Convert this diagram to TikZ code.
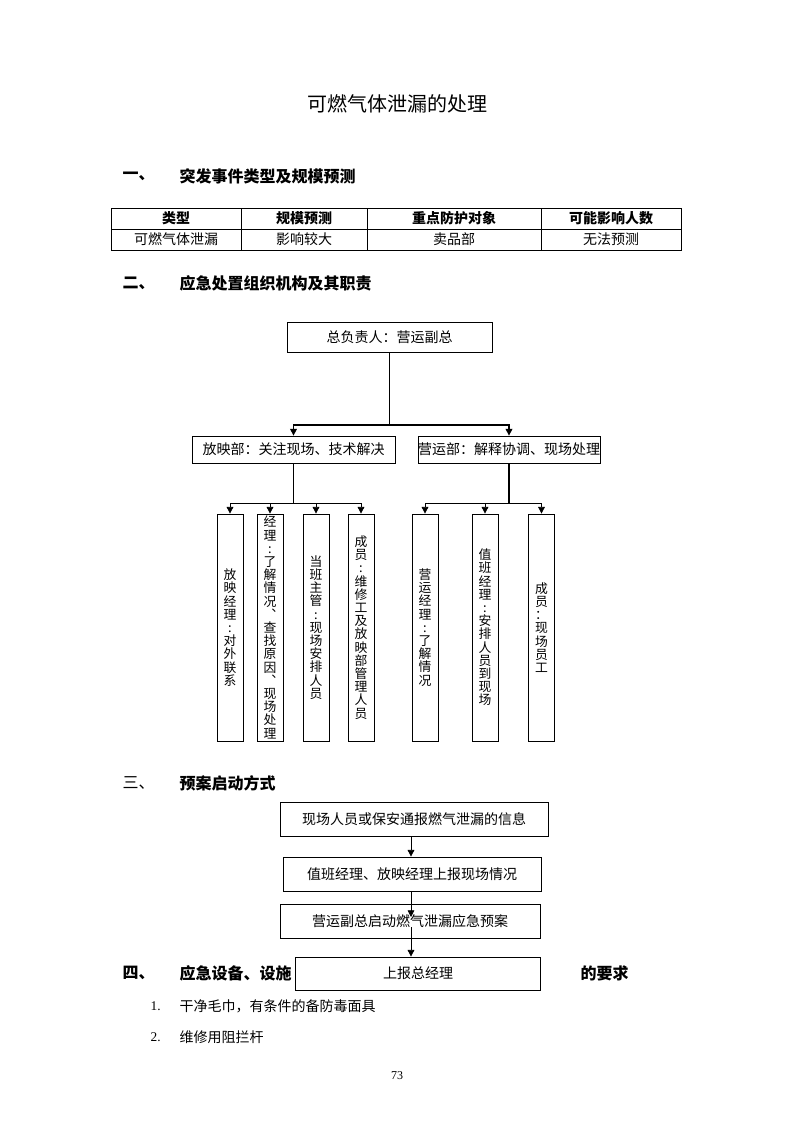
\documentclass[tikz,border=0pt]{standalone}
\usepackage{fontspec}
\setmainfont{Noto Sans CJK SC}
\newfontfamily\latin{Liberation Serif}
\usetikzlibrary{arrows.meta,positioning}

\begin{document}
\begin{tikzpicture}[
  x=0.75pt,y=-0.75pt,
  font=\fontsize{10.5pt}{12pt}\selectfont,
  box/.style={draw,line width=0.6pt,inner sep=0pt,align=center},
  vbox/.style={box,minimum width=19.5pt,minimum height=170.25pt,font=\fontsize{9.6pt}{9.9pt}\selectfont},
  flow/.style={box,minimum height=25.5pt},
  head/.style={anchor=west,font=\fontsize{12pt}{14pt}\selectfont\bfseries},
  th/.style={font=\fontsize{10.5pt}{12pt}\selectfont\bfseries},
  trunk/.style={line width=1.1pt},
  arr/.style={-{Triangle[length=5pt,width=5pt]},line width=0.6pt},
  orgarr/.style={arr,line width=0.9pt}
]
\useasboundingbox (0,0) rectangle (793,1122);

\node[font=\fontsize{15pt}{18pt}\selectfont] (title) at (397,104) {可燃气体泄漏的处理};

% 一
\node[head] (n1) at (118,176) {一、};
\node[head] (h1) at (175,176) {突发事件类型及规模预测};
\draw[line width=0.6pt] (111,208) rectangle (681,250) (111,229) -- (681,229);
\foreach \x in {241,367,541} \draw[line width=0.6pt] (\x,208) -- (\x,250);
\node[th] (t11) at (176,218.5) {类型};
\node[th] (t12) at (304,218.5) {规模预测};
\node[th] (t13) at (454,218.5) {重点防护对象};
\node[th] (t14) at (611,218.5) {可能影响人数};
\node (t21) at (176,239.5) {可燃气体泄漏};
\node (t22) at (304,239.5) {影响较大};
\node (t23) at (454,239.5) {卖品部};
\node (t24) at (611,239.5) {无法预测};

% 二
\node[head] (n2) at (118,283) {二、};
\node[head] (h2) at (175,283) {应急处置组织机构及其职责};
\node[box,minimum width=153.75pt,minimum height=22.5pt] (chief) at (389.5,337) {总负责人：营运副总};
\node[box,minimum width=152.25pt,minimum height=20.25pt] (fy) at (293.5,449.5) {放映部：关注现场、技术解决};
\node[box,minimum width=136.5pt,minimum height=20.25pt] (yy) at (509,449.5) {营运部：解释协调、现场处理};
\node[vbox] (c1) at (230,627.5) {放\\映\\经\\理\\:\\对\\外\\联\\系};
\node[vbox] (c2) at (270,627.5) {经\\理\\:\\了\\解\\情\\况\\︑\\查\\找\\原\\因\\︑\\现\\场\\处\\理};
\node[vbox] (c3) at (316,627.5) {当\\班\\主\\管\\:\\现\\场\\安\\排\\人\\员};
\node[vbox] (c4) at (361,627.5) {成\\员\\:\\维\\修\\工\\及\\放\\映\\部\\管\\理\\人\\员};
\node[vbox] (c5) at (425,627.5) {营\\运\\经\\理\\:\\了\\解\\情\\况};
\node[vbox] (c6) at (485,627.5) {值\\班\\经\\理\\:\\安\\排\\人\\员\\到\\现\\场};
\node[vbox] (c7) at (541.5,627.5) {成\\员\\：\\现\\场\\员\\工};
\coordinate (b0) at (389.5,425);
\coordinate (b1) at (293.5,503);
\coordinate (b2) at (509,503);
\draw[trunk] (chief) -- (b0);
\draw[orgarr] (b0) -| (fy);
\draw[orgarr] (b0) -| (yy);
\draw[trunk] (fy) -- (b1);
\draw[trunk] (yy) -- (b2);
\foreach \c in {c1,c2,c3,c4} \draw[arr] (b1) -| (\c);
\foreach \c in {c5,c6,c7} \draw[arr] (b2) -| (\c);

% 三
\node[anchor=west,font=\fontsize{12pt}{14pt}\selectfont] (n3) at (118,783) {三、};
\node[head] (h3) at (175,783) {预案启动方式};
\node[flow,minimum width=201pt] (p1) at (414,819) {现场人员或保安通报燃气泄漏的信息};
\node[flow,minimum width=193.5pt] (p2) at (412,874) {值班经理、放映经理上报现场情况};
\node[flow,minimum width=195pt] (p3) at (410,921) {营运副总启动燃气泄漏应急预案};
\node[flow,minimum width=183.75pt,minimum height=24.75pt] (p4) at (418,973.5) {上报总经理};
\coordinate (a1) at (411,917);
\coordinate (a2) at (411,927);
\draw[arr] (p1.south -| a1) -- (p2.north -| a1);
\draw[arr] (p2.south -| a1) -- (a1);
\draw[arr] (a2) -- (p4.north -| a2);

% 四
\node[head] (n4) at (118,973) {四、};
\node[head] (h4a) at (175,973) {应急设备、设施};
\node[head] (h4b) at (576,973) {的要求};
\node[anchor=west,font=\latin] (i1) at (146,1006) {1.};
\node[anchor=west] (l1) at (175,1006) {干净毛巾，有条件的备防毒面具};
\node[anchor=west,font=\latin] (i2) at (146,1037) {2.};
\node[anchor=west] (l2) at (175,1037) {维修用阻拦杆};
\node[font=\latin\fontsize{9pt}{10pt}\selectfont] (page) at (397,1076) {73};
\end{tikzpicture}
\end{document}
